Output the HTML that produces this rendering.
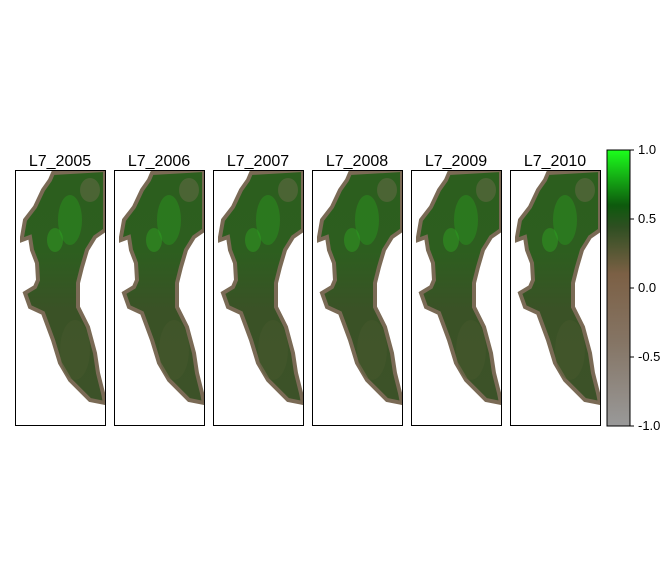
<!DOCTYPE html>
<html><head><meta charset="utf-8"><style>
body{margin:0;background:#fff;font-family:"Liberation Sans",sans-serif}
svg text{font-family:"Liberation Sans",sans-serif}
</style></head><body>
<svg width="672" height="576">
<defs>
<linearGradient id="cb" x1="0" y1="0" x2="0" y2="1">
<stop offset="0" stop-color="#1cff1c"/>
<stop offset="0.2" stop-color="#0d5a0d"/>
<stop offset="0.28" stop-color="#2f4f22"/>
<stop offset="0.45" stop-color="#7c6045"/>
<stop offset="0.7" stop-color="#857565"/>
<stop offset="1" stop-color="#999999"/>
</linearGradient>
<linearGradient id="land" x1="0" y1="0" x2="0" y2="1">
<stop offset="0" stop-color="#2c5e1e"/>
<stop offset="0.35" stop-color="#2d5e1f"/>
<stop offset="0.6" stop-color="#3a5226"/>
<stop offset="1" stop-color="#3c5228"/>
</linearGradient>
<symbol id="region" viewBox="0 0 90 255">
<path d="M38,3 L90,0 L90,60 L80,67 L72,80 L67,97 L63,113 L63,137 L73,157 L80,183 L83,203 L88,223 L90,233 L75,230 L55,210 L45,193 L38,170 L28,143 L15,137 L10,123 L20,117 L23,110 L22,93 L17,80 L15,67 L7,70 L7,67 L10,50 L20,37 L28,20 L35,10 Z" fill="url(#land)" stroke="#7a6a55" stroke-width="4"/>
<ellipse cx="55" cy="50" rx="12" ry="25" fill="#2a9a1e" opacity="0.45"/>
<ellipse cx="40" cy="70" rx="8" ry="12" fill="#30b024" opacity="0.4"/>
<ellipse cx="75" cy="20" rx="10" ry="12" fill="#6a6a4a" opacity="0.5"/>
<ellipse cx="60" cy="180" rx="15" ry="30" fill="#4a5a30" opacity="0.4"/>
</symbol>
</defs>
<g id="panels"></g>
<rect x="607" y="150" width="23" height="276" fill="url(#cb)" stroke="#000" stroke-width="1"/>
<g id="cbticks" font-size="13"></g>
</svg>
<script>
const years=["L7_2005","L7_2006","L7_2007","L7_2008","L7_2009","L7_2010"];
const cbTicks=[1.0,0.5,0.0,-0.5,-1.0];
const ns="http://www.w3.org/2000/svg";
const g=document.getElementById('panels');
years.forEach((y,i)=>{
 const x0=15+i*99;
 const grp=document.createElementNS(ns,'g');
 
 
 const u=document.createElementNS(ns,'use');
 u.setAttribute('href','#region');u.setAttribute('x',x0);u.setAttribute('y',170);u.setAttribute('width',90);u.setAttribute('height',255);
 grp.appendChild(u);
 const r=document.createElementNS(ns,'rect');
 r.setAttribute('x',x0+0.5);r.setAttribute('y',170.5);r.setAttribute('width',90);r.setAttribute('height',255);
 r.setAttribute('fill','none');r.setAttribute('stroke','#000');
 grp.appendChild(r);
 const t=document.createElementNS(ns,'text');
 t.setAttribute('x',x0+45);t.setAttribute('y',166);t.setAttribute('text-anchor','middle');t.setAttribute('font-size','16');
 
 
 t.textContent=y;grp.appendChild(t);
 g.appendChild(grp);
});
const cg=document.getElementById('cbticks');
cbTicks.forEach(v=>{
 const yy=150+(1-v)/2*276;
 const l=document.createElementNS(ns,'line');
 l.setAttribute('x1',630);l.setAttribute('x2',634);l.setAttribute('y1',yy);l.setAttribute('y2',yy);l.setAttribute('stroke','#000');
 cg.appendChild(l);
 const t=document.createElementNS(ns,'text');
 t.setAttribute('x',638);t.setAttribute('y',yy+4);
 
 
 t.textContent=v.toFixed(1);cg.appendChild(t);
});
</script>
</body></html>
